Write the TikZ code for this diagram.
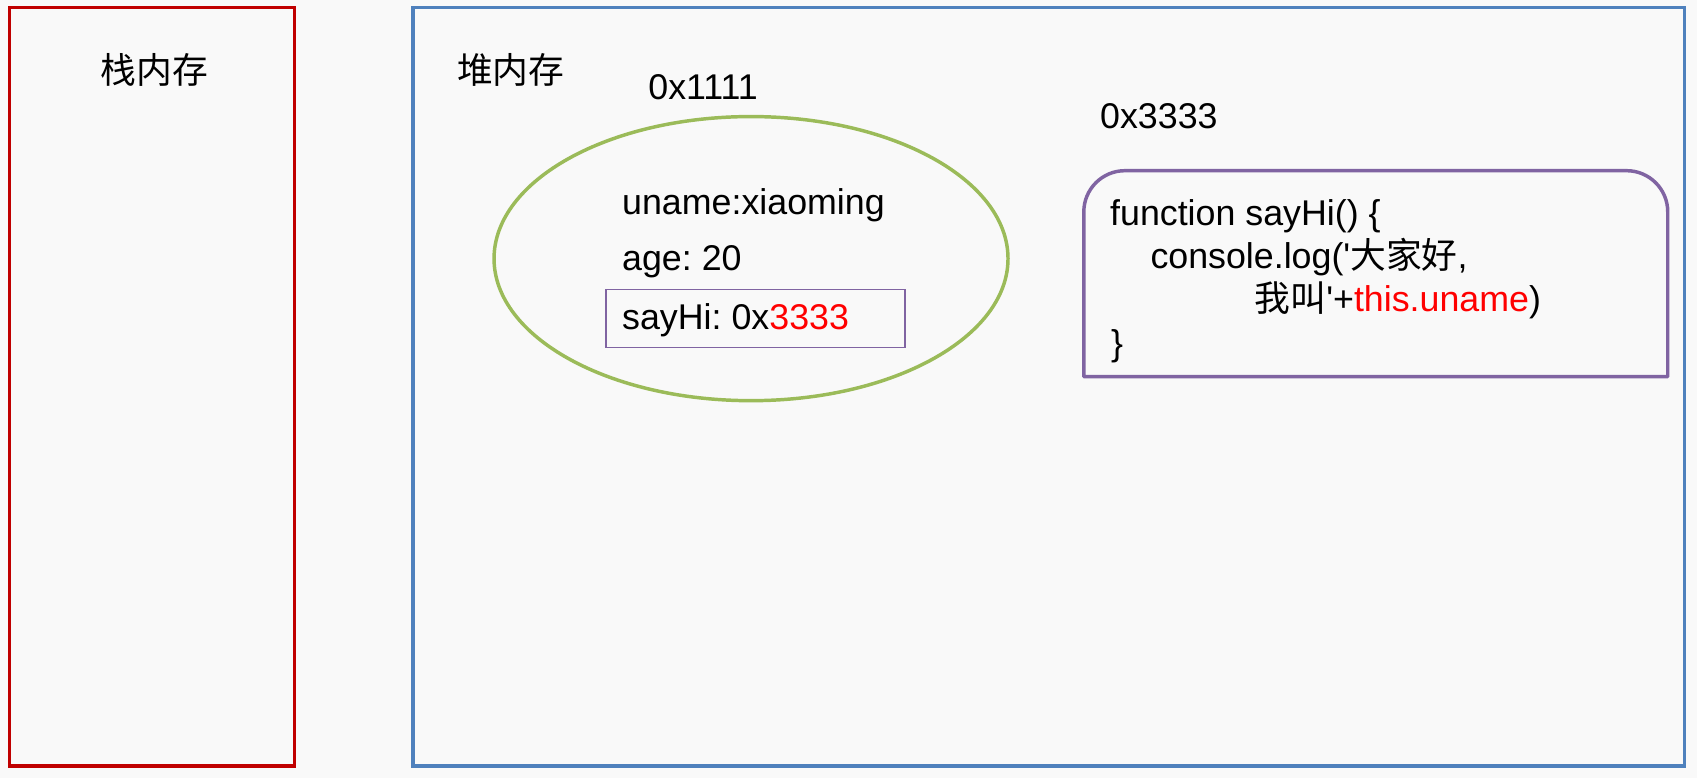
\documentclass[tikz,border=0pt]{standalone}
\usepackage{fontspec}
\newfontfamily\arial{Liberation Sans}
\newfontfamily\cjk{Noto Sans CJK SC}
\usetikzlibrary{shapes.geometric}
\definecolor{bgc}{HTML}{F9F9F9}
\definecolor{stackred}{HTML}{C00000}
\definecolor{heapblue}{HTML}{4F81BD}
\definecolor{objgreen}{HTML}{9BBB59}
\definecolor{fnpurple}{HTML}{8064A2}
\definecolor{hot}{HTML}{FF0000}
\frenchspacing
\begin{document}
\begin{tikzpicture}[x=1pt,y=-1pt,
  txt/.style={inner sep=0pt, anchor=base west, font=\arial\fontsize{33}{40}\selectfont\frenchspacing},
  cjktxt/.style={inner sep=0pt, anchor=base west, font=\cjk\fontsize{33}{40}\selectfont},
  area/.style={draw, line width=3.2pt, inner sep=0pt},
]
\useasboundingbox[fill=bgc] (0,0) rectangle (1565,717.4);

% memory areas
\node[area, draw=stackred, minimum width=263pt, minimum height=699.6pt] (stack) at (140.25,356.6) {};
\node[area, draw=heapblue, minimum width=1172.5pt, minimum height=699.6pt] (heap) at (967.25,356.6) {};

\node[cjktxt] (stacklbl) at (92.5,77) {栈内存};
\node[cjktxt] (heaplbl) at (421.3,77) {堆内存};

% object
\node[txt] (addr1) at (597.8,91.6) {0x1111};
\node[draw=objgreen, line width=3.2pt, ellipse, minimum width=474pt, minimum height=262pt, inner sep=0pt] (obj) at (692.6,238.5) {};
\node[txt] (uname) at (573.6,197.5) {uname:xiaoming};
\node[txt] (age) at (573.6,249.6) {age: 20};
\node[draw=fnpurple, line width=1.5pt, minimum width=276pt, minimum height=53.5pt, inner sep=0pt] (sayhibox) at (696.6,293.85) {};
\node[txt] (sayhi) at (573.6,303.7) {sayHi: 0x\textcolor{hot}{3333}};

% function
\node[txt] (addr3) at (1014.4,118.3) {0x3333};
\coordinate (fbl) at (999.5,347.4);
\coordinate (fbr) at (1538,347.4);
\draw[fnpurple, line width=3.2pt, line join=round]
  (fbl) -- (999.5,195.4) .. controls (999.5,174.4) and (1016.5,157.4) .. (1037.5,157.4)
  -- (1500,157.4) .. controls (1521,157.4) and (1538,174.4) .. (1538,195.4)
  -- (fbr) -- cycle;
\node[txt] (l1) at (1023.6,207.5) {function sayHi() \{};
\node[txt] (l2) at (1060.8,247.4) {console.log('{\cjk 大家好},};
\node[txt] (l3) at (1156.9,287.4) {{\cjk 我叫}'+\textcolor{hot}{this.uname})};
\node[txt] (l4) at (1024.4,327.4) {\}};
\end{tikzpicture}
\end{document}
